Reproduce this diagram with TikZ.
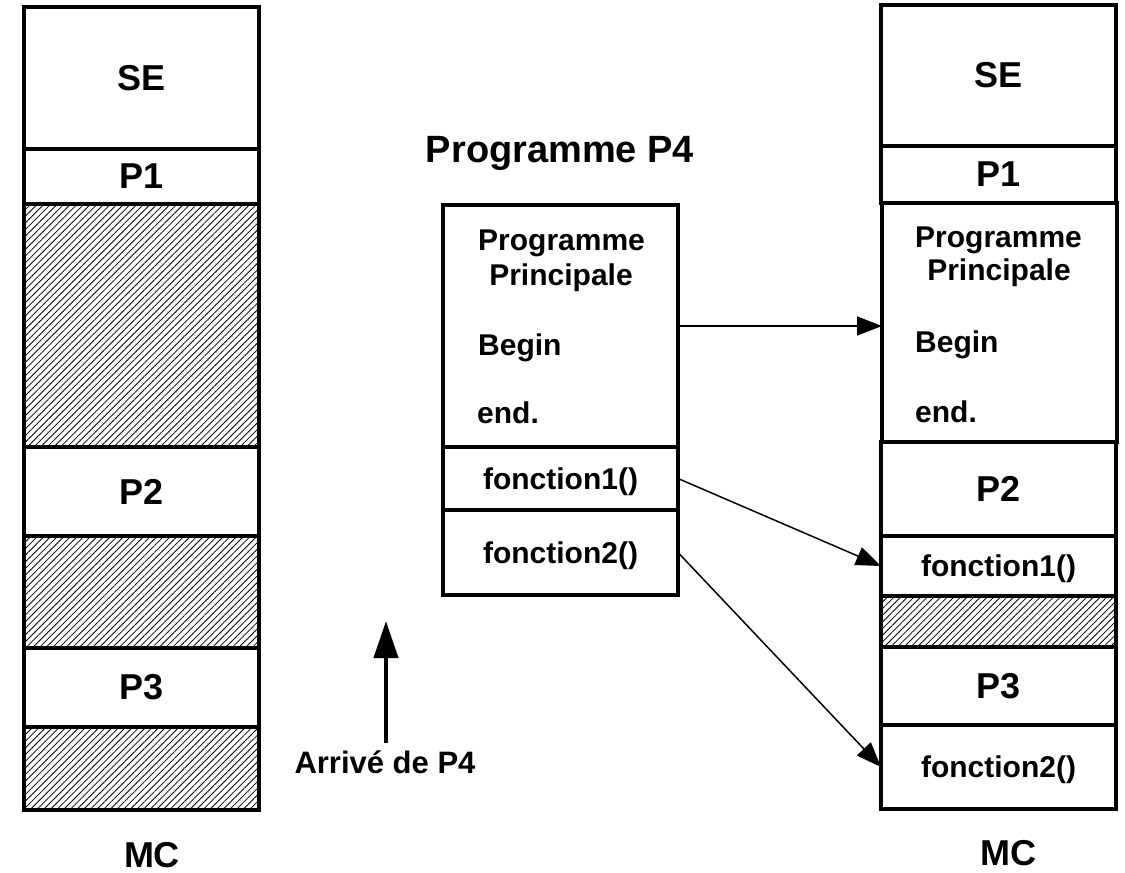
\documentclass[tikz,border=0pt]{standalone}
\usepackage{fontspec}
\setmainfont{Liberation Sans}
\usetikzlibrary{arrows.meta,patterns.meta}
\begin{document}
\begin{tikzpicture}[x=1pt,y=-1pt,
  blk/.style={draw=black, line width=4pt, minimum width=235pt, anchor=north west,
    inner sep=0pt, outer sep=0pt, font=\bfseries\fontsize{36}{40}\selectfont},
  fnblk/.style={blk, text depth=0pt, font=\bfseries\fontsize{30}{34}\selectfont},
  hatch/.style={blk, pattern={Lines[angle=45,distance=4.7pt,line width=0.8pt]}},
  txt/.style={anchor=base west, inner sep=0pt, font=\bfseries\fontsize{30}{34}\selectfont},
  ctxt/.style={anchor=base, inner sep=0pt, font=\bfseries\fontsize{30}{34}\selectfont},
  big/.style={inner sep=0pt, font=\bfseries\fontsize{36}{40}\selectfont},
  conn/.style={line width=1.5pt, -{Triangle[length=25pt,width=19pt]}},
  upar/.style={line width=4pt, -{Triangle[length=37pt,width=24pt]}}
]
\useasboundingbox (0,0) rectangle (1125,873);
% ---- left memory
\node[blk, minimum height=142pt] (lse) at (24,7) {SE};
\node[blk, minimum height=55pt] (lp1) at (24,149) {P1};
\node[hatch, minimum height=243pt] (lh1) at (24,204) {};
\node[blk, minimum height=89pt] (lp2) at (24,447) {P2};
\node[hatch, minimum height=112pt] (lh2) at (24,536) {};
\node[blk, minimum height=79pt] (lp3) at (24,648) {P3};
\node[hatch, minimum height=83pt] (lh3) at (24,727) {};
\node[big] (lmc) at (152,855) {MC};
% ---- program P4
\node[big, font=\bfseries\fontsize{38}{42}\selectfont] (ptitle) at (560,153) {Programme P4};
\node[blk, minimum height=242pt] (pmain) at (443,205) {};
\node[fnblk, minimum height=63pt] (pf1) at (443,447) {fonction1()};
\node[fnblk, minimum height=85pt] (pf2) at (443,510) {fonction2()};
\node[txt] (pprog) at (478,250) {Programme};
\node[ctxt] (pprin) at (561,285) {Principale};
\node[txt] (pbeg) at (478,355) {Begin};
\node[txt] (pend) at (477,423) {end.};
% ---- right memory
\node[blk, minimum height=141pt] (rse) at (881,5) {SE};
\node[blk, minimum height=57pt] (rp1) at (881,146) {P1};
\node[blk, minimum height=239pt] (rmain) at (882,203) {};
\node[txt] (rprog) at (915,247) {Programme};
\node[ctxt] (rprin) at (999,280) {Principale};
\node[txt] (rbeg) at (915,352) {Begin};
\node[txt] (rend) at (915,422) {end.};
\node[blk, minimum height=94pt] (rp2) at (881,442) {P2};
\node[fnblk, minimum height=60pt] (rf1) at (881,536) {fonction1()};
\node[hatch, minimum height=51pt] (rh) at (881,596) {};
\node[blk, minimum height=78pt] (rp3) at (881,647) {P3};
\node[fnblk, minimum height=84pt] (rf2) at (881,725) {fonction2()};
\node[big] (rmc) at (1008,853) {MC};
% ---- arrival
\node[anchor=base, inner sep=0pt, font=\bfseries\fontsize{31}{34}\selectfont] (arrlbl) at (385,773) {Arrivé de P4};
\coordinate (arrtip) at (386,621);
% ---- connectors
\draw[conn] (pmain.east) -- (rmain.west |- pmain.east);
\draw[conn] (pf1.east) -- (rf1.west);
\draw[conn] (pf2.east) -- (rf2.west);
\draw[upar, shorten <=7pt] (arrlbl.north -| arrtip) -- (arrtip);
\end{tikzpicture}
\end{document}
